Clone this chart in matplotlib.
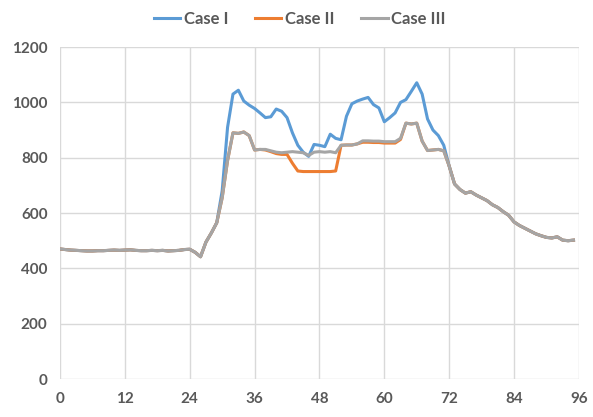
import numpy as np
import matplotlib
matplotlib.use('Agg')
import matplotlib.pyplot as plt

# time steps (15 min)
t = np.arange(96)

base = [470, 468, 466, 465, 464, 463, 463, 464, 464, 465, 466, 465, 466, 467, 465, 464,
        464, 465, 464, 465, 463, 464, 465, 468, 469, 458, 442, 495, 528, 565]

case1_mid = [680, 910, 1030, 1044, 1005, 990, 978, 962, 945, 948, 976, 968, 945, 890, 845, 820,
             805, 848, 845, 840, 885, 870, 865, 950, 995, 1005, 1012, 1018, 992, 980, 930, 945,
             962, 1000, 1010, 1040, 1071, 1030, 940, 900, 880, 845]

case2_mid = [655, 790, 890, 888, 893, 880, 828, 830, 828, 822, 815, 812, 812, 780, 752, 750,
             750, 750, 750, 750, 750, 752, 845, 846, 846, 850, 856, 856, 855, 855, 853, 853,
             853, 866, 925, 922, 925, 860, 826, 828, 830, 825]

case3_mid = [655, 790, 890, 888, 893, 880, 828, 830, 830, 825, 820, 818, 820, 822, 820, 818,
             808, 820, 822, 820, 822, 818, 845, 846, 846, 850, 861, 861, 860, 860, 858, 858,
             858, 870, 925, 922, 925, 860, 826, 828, 830, 825]

tail = [770, 705, 685, 672, 677, 665, 655, 645, 630, 620, 605, 592, 568, 555, 545, 535,
        525, 518, 512, 510, 514, 502, 500, 502]

case1 = base + case1_mid + tail
case2 = base + case2_mid + tail
case3 = base + case3_mid + tail

labels = ['Case I', 'Case II', 'Case III']
colors = ['#5B9BD5', '#ED7D31', '#A5A5A5']

plt.rcParams['font.family'] = ['Lato', 'DejaVu Sans']

fig = plt.figure(figsize=(5.93, 4.17), dpi=100)
ax = fig.add_axes([0.1012, 0.0911, 0.875, 0.796])

for y, lab, c in zip([case1, case2, case3], labels, colors):
    ax.plot(t, y, color=c, lw=2.2, label=lab)

ax.set_xlim(0, 96)
ax.set_ylim(0, 1200)
ax.set_xticks(np.arange(0, 97, 12))
ax.set_yticks(np.arange(0, 1201, 200))
ax.grid(True, color='#d9d9d9', lw=1)
ax.set_axisbelow(True)
for s in ax.spines.values():
    s.set_visible(False)
ax.tick_params(length=0, labelsize=11, colors='#595959', pad=9)
for lab in ax.get_xticklabels() + ax.get_yticklabels():
    lab.set_fontweight('bold')

fig.legend(loc='upper center', bbox_to_anchor=(0.505, 1.01), ncol=3, frameon=False,
           handlelength=1.6, columnspacing=1.6, handletextpad=0.2,
           prop={'size': 12, 'weight': 'bold'}, labelcolor='#595959')

fig.savefig('out.png', dpi=100)
